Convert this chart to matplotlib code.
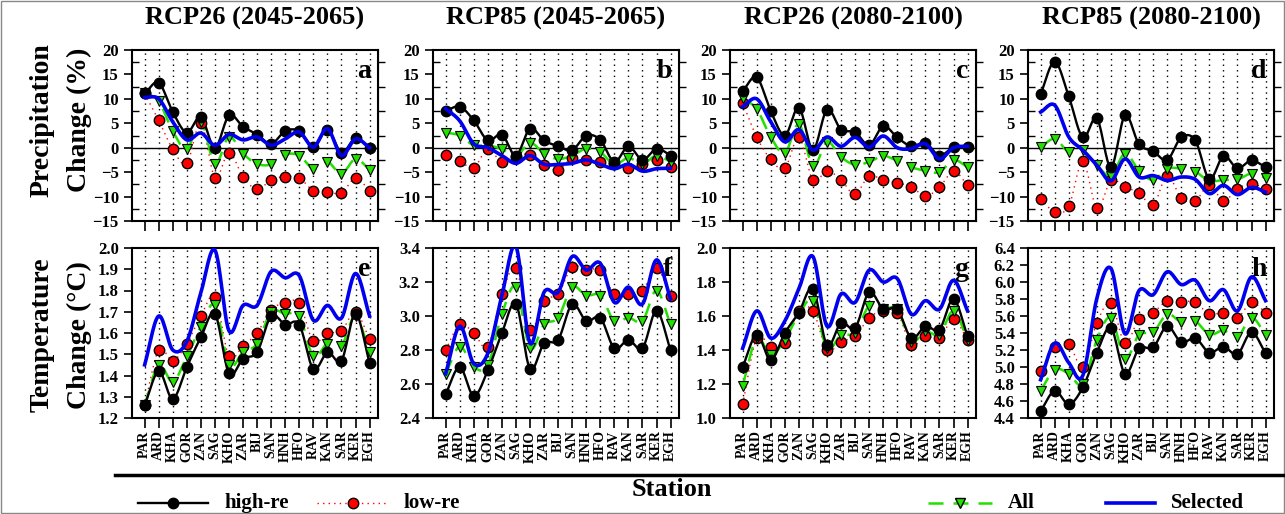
import numpy as np
import matplotlib
matplotlib.use("Agg")
import matplotlib.pyplot as plt
from matplotlib.lines import Line2D
from matplotlib.patches import Rectangle

plt.rcParams['font.family'] = ['Liberation Serif', 'DejaVu Serif']
plt.rcParams['font.weight'] = 'bold'

stations = ["PAR", "ARD", "KHA", "GOR", "ZAN", "SAG", "KHO", "ZAR", "BIJ",
            "SAN", "HNH", "HFO", "RAV", "KAN", "SAR", "KER", "EGH"]

titles = ["RCP26 (2045-2065)", "RCP85 (2045-2065)",
          "RCP26 (2080-2100)", "RCP85 (2080-2100)"]

# precipitation change (%)
a_high = [11.1, 13.3, 7.3, 3.1, 6.3, 0.0, 6.6, 4.3, 2.7, 0.8, 3.4, 3.4, 0.1, 3.7, -1.0, 1.9, -0.1]
a_low = [11.1, 5.6, -0.3, -3.2, 5.1, -6.1, -1.0, -6.0, -8.5, -6.6, -5.9, -6.2, -8.8, -9.0, -9.3, -6.2, -8.8]
a_all = [11.2, 9.5, 3.4, -0.3, 5.3, -3.3, 2.2, -1.2, -3.3, -3.4, -1.4, -1.6, -4.3, -2.9, -5.3, -2.3, -4.5]
a_sel = [10.3, 10.0, 5.3, 1.6, 3.0, 0.5, 2.7, 1.6, 2.2, 0.5, 1.8, 3.2, 0.1, 3.9, -1.6, 1.8, 0.0]

b_high = [7.5, 8.4, 5.6, 1.5, 2.7, -1.6, 3.9, 1.5, 0.3, -0.5, 2.5, 1.6, -2.9, 0.3, -2.5, -0.2, -1.6]
b_low = [-1.4, -2.7, -4.1, -0.2, -3.0, -1.8, -1.4, -3.6, -4.5, -2.1, -2.5, -3.0, -3.4, -4.1, -3.4, -2.6, -4.0]
b_all = [3.1, 2.5, 0.5, 0.5, -0.3, -1.8, 1.0, -1.2, -2.3, -1.6, -0.2, -0.9, -3.4, -2.1, -3.3, -1.6, -2.9]
b_sel = [8.0, 5.5, 0.8, 0.0, -1.6, -3.2, -1.6, -3.4, -3.4, -3.2, -2.5, -3.4, -4.3, -3.4, -4.8, -4.3, -4.2]

c_high = [11.6, 14.4, 7.5, 2.5, 8.2, -0.4, 7.8, 3.7, 3.2, 0.5, 4.4, 2.1, 0.3, 1.0, -1.6, 0.1, 0.1]
c_low = [9.2, 2.2, -2.4, -4.2, 2.1, -6.7, -4.7, -6.6, -9.5, -5.7, -6.7, -7.2, -8.0, -9.9, -8.1, -4.8, -7.7]
c_all = [10.1, 7.9, 2.2, -1.1, 4.8, -3.8, 1.2, -1.9, -3.5, -2.9, -1.7, -2.7, -4.0, -4.7, -5.0, -2.5, -4.0]
c_sel = [8.4, 10.0, 5.3, 1.2, 3.7, -0.5, 2.2, 0.3, 2.1, 0.1, 2.4, 0.0, -0.2, 0.8, -2.3, 0.0, 0.3]

d_high = [11.0, 17.6, 10.5, 2.1, 6.0, -4.0, 6.6, 0.7, -0.7, -2.5, 2.1, 1.5, -6.4, -1.7, -4.2, -2.6, -4.0]
d_low = [-10.5, -13.1, -12.0, -2.8, -12.4, -6.7, -8.1, -9.2, -11.8, -5.7, -10.3, -10.9, -7.6, -10.9, -8.4, -7.4, -8.4]
d_all = [0.1, 1.8, -0.9, -0.5, -3.6, -5.7, -1.2, -4.7, -6.6, -4.3, -4.3, -4.9, -6.8, -6.6, -6.5, -5.3, -6.2]
d_sel = [7.3, 8.7, 2.2, -0.5, -3.6, -6.8, -2.3, -6.0, -5.7, -6.7, -6.0, -6.5, -9.4, -7.7, -9.6, -8.1, -9.1]

# temperature change (degC)
e_high = [1.26, 1.42, 1.29, 1.44, 1.58, 1.69, 1.41, 1.48, 1.51, 1.68, 1.64, 1.64, 1.43, 1.51, 1.47, 1.69, 1.46]
e_low = [1.26, 1.52, 1.47, 1.55, 1.68, 1.77, 1.49, 1.54, 1.60, 1.71, 1.74, 1.74, 1.56, 1.60, 1.61, 1.70, 1.57]
e_all = [1.26, 1.45, 1.37, 1.49, 1.63, 1.73, 1.45, 1.51, 1.55, 1.70, 1.69, 1.68, 1.49, 1.55, 1.54, 1.68, 1.51]
e_sel = [1.45, 1.68, 1.52, 1.56, 1.79, 1.99, 1.61, 1.73, 1.73, 1.89, 1.86, 1.87, 1.66, 1.73, 1.67, 1.88, 1.68]

f_high = [2.54, 2.70, 2.53, 2.68, 2.90, 3.07, 2.69, 2.84, 2.86, 3.07, 2.97, 2.99, 2.81, 2.86, 2.81, 3.03, 2.80]
f_low = [2.80, 2.95, 2.90, 2.82, 3.13, 3.28, 2.92, 3.09, 3.13, 3.29, 3.27, 3.27, 3.13, 3.13, 3.15, 3.28, 3.12]
f_all = [2.66, 2.82, 2.70, 2.71, 3.01, 3.17, 2.81, 2.95, 2.99, 3.17, 3.12, 3.12, 2.97, 2.99, 2.97, 3.15, 2.95]
f_sel = [2.66, 2.94, 2.72, 2.78, 3.12, 3.41, 2.84, 3.14, 3.14, 3.35, 3.27, 3.31, 3.08, 3.17, 3.07, 3.33, 3.10]

g_high = [1.30, 1.49, 1.34, 1.50, 1.62, 1.76, 1.43, 1.56, 1.53, 1.74, 1.64, 1.64, 1.47, 1.54, 1.52, 1.70, 1.48]
g_low = [1.08, 1.47, 1.42, 1.44, 1.63, 1.63, 1.40, 1.45, 1.48, 1.59, 1.63, 1.62, 1.43, 1.48, 1.47, 1.58, 1.46]
g_all = [1.19, 1.47, 1.37, 1.46, 1.61, 1.69, 1.41, 1.49, 1.50, 1.66, 1.64, 1.64, 1.45, 1.51, 1.49, 1.63, 1.46]
g_sel = [1.41, 1.63, 1.47, 1.57, 1.76, 1.95, 1.54, 1.73, 1.68, 1.87, 1.80, 1.82, 1.61, 1.69, 1.64, 1.81, 1.63]

h_high = [4.48, 4.72, 4.56, 4.76, 5.17, 5.46, 4.92, 5.22, 5.23, 5.48, 5.29, 5.34, 5.17, 5.24, 5.15, 5.41, 5.16]
h_low = [4.95, 5.24, 5.27, 5.00, 5.52, 5.75, 5.28, 5.57, 5.64, 5.78, 5.77, 5.76, 5.62, 5.64, 5.58, 5.76, 5.64]
h_all = [4.72, 4.97, 4.92, 4.80, 5.32, 5.58, 5.10, 5.38, 5.41, 5.62, 5.53, 5.54, 5.38, 5.43, 5.35, 5.58, 5.38]
h_sel = [4.85, 5.28, 5.05, 4.90, 5.81, 6.16, 5.39, 5.90, 5.85, 6.12, 5.97, 6.02, 5.78, 5.91, 5.66, 6.06, 5.78]

prec_panels = [(a_high, a_low, a_all, a_sel), (b_high, b_low, b_all, b_sel),
               (c_high, c_low, c_all, c_sel), (d_high, d_low, d_all, d_sel)]
temp_panels = [(e_high, e_low, e_all, e_sel), (f_high, f_low, f_all, f_sel),
               (g_high, g_low, g_all, g_sel), (h_high, h_low, h_all, h_sel)]
temp_limits = [(1.2, 2.0, 0.1), (2.4, 3.4, 0.2), (1.0, 2.0, 0.2), (4.4, 6.4, 0.2)]
letters = ["abcd", "efgh"]

green = "#22e000"
blue = "#0000ee"


def smooth(x, y, n=16):
    # catmull-rom curve through the points, like the spline in the original
    x = np.asarray(x, float)
    y = np.asarray(y, float)
    px = np.concatenate([[2 * x[0] - x[1]], x, [2 * x[-1] - x[-2]]])
    py = np.concatenate([[2 * y[0] - y[1]], y, [2 * y[-1] - y[-2]]])
    t = np.linspace(0, 1, n, endpoint=False)
    xs, ys = [], []
    for i in range(1, len(px) - 2):
        for p, out in ((px, xs), (py, ys)):
            p0, p1, p2, p3 = p[i - 1], p[i], p[i + 1], p[i + 2]
            out.append(0.5 * (2 * p1 + (-p0 + p2) * t + (2 * p0 - 5 * p1 + 4 * p2 - p3) * t ** 2
                              + (-p0 + 3 * p1 - 3 * p2 + p3) * t ** 3))
    xs.append([x[-1]])
    ys.append([y[-1]])
    return np.concatenate(xs), np.concatenate(ys)


def draw(ax, high, low, allv, sel):
    x = np.arange(len(stations))
    for xi in x:
        ax.axvline(xi, color="black", lw=1.0, ls=(0, (1, 3)), zorder=0)
    sx, sy = smooth(x, low)
    ax.plot(sx, sy, color="red", lw=1.0, ls=(0, (1, 3)), zorder=2)
    sx, sy = smooth(x, allv)
    ax.plot(sx, sy, color=green, lw=1.8, ls=(0, (6, 4)), zorder=3)
    sx, sy = smooth(x, high)
    ax.plot(sx, sy, color="black", lw=1.7, zorder=4)
    sx, sy = smooth(x, sel)
    ax.plot(sx, sy, color=blue, lw=2.6, zorder=6)
    ax.plot(x, low, "o", ms=7.5, mfc="red", mec="black", mew=1.0, zorder=5)
    ax.plot(x, allv, "v", ms=7.5, mfc=green, mec="black", mew=0.8, zorder=5)
    ax.plot(x, high, "o", ms=7.5, mfc="black", mec="black", zorder=5)
    ax.set_xlim(-0.9, len(stations) - 0.4)
    ax.set_xticks(x)
    ax.tick_params(axis="x", direction="out", length=7, width=1.2)
    for s in ax.spines.values():
        s.set_linewidth(1.5)


fig = plt.figure(figsize=(12.85, 5.14), dpi=100)
W, H = 1285.0, 514.0
lefts = [132, 433, 730, 1028]
pw = 246

for j in range(4):
    # precipitation row
    ax = fig.add_axes([lefts[j] / W, 1 - 221 / H, pw / W, 171 / H])
    draw(ax, *prec_panels[j])
    ax.axhline(0, color="black", lw=1.0, zorder=1)
    ax.set_ylim(-15, 20)
    ax.set_yticks(np.arange(-15, 21, 5))
    ax.set_yticks(np.arange(-12.5, 20, 5), minor=True)
    ax.tick_params(axis="y", which="major", direction="out", length=6, width=1.2, labelsize=12)
    ax.tick_params(axis="y", which="minor", direction="in", length=5, width=1.0)
    sec = ax.secondary_yaxis("right")
    sec.set_yticks(np.arange(-12.5, 20, 5))
    sec.tick_params(direction="out", length=5, width=1.0, labelright=False)
    ax.set_xticklabels([])
    ax.text(0.97, 0.95, letters[0][j], transform=ax.transAxes, ha="right", va="top",
            fontsize=20, fontweight="bold")
    fig.text((lefts[j] + pw / 2) / W, 1 - 18 / H, titles[j], ha="center", va="center",
             fontsize=19, fontweight="bold")

    # temperature row
    ax = fig.add_axes([lefts[j] / W, 1 - 418 / H, pw / W, 170 / H])
    draw(ax, *temp_panels[j])
    lo, hi, step = temp_limits[j]
    ax.set_ylim(lo, hi)
    ax.set_yticks(np.round(np.arange(lo, hi + step / 2, step), 2))
    ax.yaxis.set_major_formatter(matplotlib.ticker.FormatStrFormatter("%.1f"))
    ax.tick_params(axis="y", direction="out", length=6, width=1.2, labelsize=12)
    ax.set_xticklabels(stations, rotation=90, fontsize=10, fontweight="bold")
    ax.tick_params(axis="x", pad=2)
    ax.text(0.97, 0.95, letters[1][j], transform=ax.transAxes, ha="right", va="top",
            fontsize=20, fontweight="bold")

fig.text(42 / W, 1 - 120 / H, "Precipitation", rotation=90, ha="center", va="center", fontsize=20)
fig.text(79 / W, 1 - 120 / H, "Change (%)", rotation=90, ha="center", va="center", fontsize=20)
fig.text(42 / W, 1 - 335 / H, "Temperature", rotation=90, ha="center", va="center", fontsize=20)
fig.text(79 / W, 1 - 335 / H, "Change (\u00b0C)", rotation=90, ha="center", va="center", fontsize=20)

# bottom rule, axis title and legend
fig.add_artist(Line2D([115 / W, 1.0], [1 - 475 / H] * 2, transform=fig.transFigure,
                      color="black", lw=2.5))
fig.text(672 / W, 1 - 490 / H, "Station", ha="center", va="center", fontsize=19)

ly = 1 - 503 / H
legend_items = [
    (138, 208, "high-re", dict(color="black", lw=1.7, marker="o", mfc="black", mec="black")),
    (317, 388, "low-re", dict(color="red", lw=1.0, ls=(0, (1, 3)), marker="o", mfc="red", mec="black")),
    (928, 992, "All", dict(color=green, lw=1.8, ls=(0, (6, 4)), marker="v", mfc=green, mec="black")),
    (1106, 1155, "Selected", dict(color=blue, lw=2.6)),
]
for x0, x1, label, style in legend_items:
    xm = (x0 + x1) / 2
    fig.add_artist(Line2D([x0 / W, xm / W, x1 / W], [ly] * 3, transform=fig.transFigure,
                          markevery=[1], ms=7.5, **style))
    fig.text((x1 + 16) / W, ly, label, ha="left", va="center", fontsize=15)

fig.add_artist(Rectangle((0.001, 0.001), 0.998, 0.997, transform=fig.transFigure,
                         fill=False, ec="#888888", lw=1.0))

fig.savefig("out.png", dpi=100)
